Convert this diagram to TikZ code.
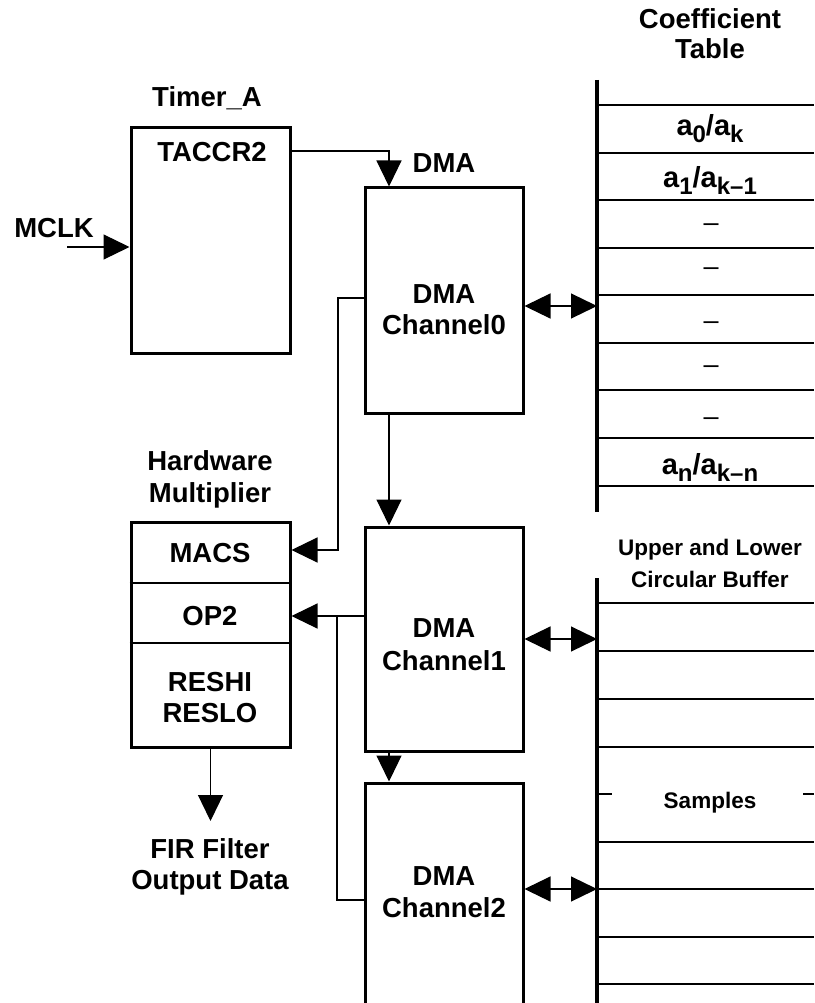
\documentclass[tikz,border=0pt]{standalone}
\usepackage{fontspec}
\setmainfont{Liberation Sans}
\usetikzlibrary{arrows.meta}
\newcommand\sbs[1]{\raisebox{-7pt}{\fontsize{24}{24}\selectfont #1}}
\tikzset{
  lbl/.style={font=\bfseries\fontsize{27.5}{31}\selectfont, inner sep=0pt, anchor=base},
  coeflbl/.style={font=\bfseries\fontsize{29}{31}\selectfont, inner sep=0pt, anchor=base},
  smalllbl/.style={font=\bfseries\fontsize{22.5}{26}\selectfont, inner sep=0pt, anchor=base},
  dashlbl/.style={font=\fontsize{27}{31}\selectfont, inner sep=0pt, anchor=base},
  blk/.style={draw, line width=3pt, inner sep=0pt},
  conn/.style={line width=1.2pt},
  arr/.style={conn, -{Triangle[length=26pt,width=25pt]}},
  darr/.style={conn, {Triangle[length=26pt,width=25pt]}-{Triangle[length=26pt,width=25pt]}},
  tabv/.style={line width=4pt},
  tabh/.style={line width=1.5pt},
}
\begin{document}
\begin{tikzpicture}[x=1pt,y=-1pt]
\useasboundingbox (0,0) rectangle (814,1003);

% Timer_A
\node[blk, minimum width=159, minimum height=225] (timer) at (210.5,240.5) {};
\node[lbl] (timerlbl) at (207,107) {Timer\_A};
\node[lbl] (taccr) at (212,162) {TACCR2};
\node[lbl] (mclklbl) at (54,237) {MCLK};
\coordinate (mclk) at (67,247);
\draw[arr] (mclk) -- (timer.west |- mclk);

% DMA channels
\node[lbl] (dmalbl) at (444,173) {DMA};
\node[blk, minimum width=158, minimum height=225] (ch0) at (444,300.5) {};
\node[lbl] (ch0a) at (444,303) {DMA};
\node[lbl] (ch0b) at (444,334) {Channel0};
\node[blk, minimum width=158, minimum height=224] (ch1) at (444,639) {};
\node[lbl] (ch1a) at (444,637) {DMA};
\node[lbl] (ch1b) at (444,670) {Channel1};
\node[blk, minimum width=158, minimum height=240] (ch2) at (444,903) {};
\node[lbl] (ch2a) at (444,885) {DMA};
\node[lbl] (ch2b) at (444,917) {Channel2};

\draw[arr] (timer.east |- 0,151) -| (ch0.north -| 389,0);
\draw[arr] (ch0.south -| 389,0) -- (ch1.north -| 389,0);
\draw[arr] (ch1.south -| 389,0) -- (ch2.north -| 389,0);

% Hardware multiplier
\node[lbl] (hwa) at (210,470) {Hardware};
\node[lbl] (hwb) at (210,502) {Multiplier};
\node[blk, minimum width=159, minimum height=225] (mult) at (210.5,634.5) {};
\draw[line width=1.2pt] (mult.west |- 0,583) -- (mult.east |- 0,583);
\draw[line width=1.2pt] (mult.west |- 0,643) -- (mult.east |- 0,643);
\node[lbl] (macs) at (210,562) {MACS};
\node[lbl] (op2) at (210,625) {OP2};
\node[lbl] (reshi) at (210,691) {RESHI};
\node[lbl] (reslo) at (210,722) {RESLO};
\node[lbl] (fira) at (210,858) {FIR Filter};
\node[lbl] (firb) at (210,889) {Output Data};
\coordinate (firtip) at (210.5,821);
\draw[arr] (mult.south) -- (firtip);

\draw[arr] (ch0.west |- 0,298) -| (338,550) -- (mult.east |- 0,550);
\draw[arr] (ch1.west |- 0,616) -- (mult.east |- 0,616);
\draw[conn] (ch2.west |- 0,900) -| (337,616);

% Coefficient table
\node[lbl] (cta) at (710,29) {Coefficient};
\node[lbl] (ctb) at (710,59) {Table};
\draw[tabv] (597,80) -- (597,512);
\foreach \yy in {105,153,200,248,295,343,390,438,486}
  \draw[tabh] (599,\yy) -- (814,\yy);
\node[coeflbl] (c0) at (710,136) {a\sbs{0}/a\sbs{k}};
\node[coeflbl] (c1) at (710,187) {a\sbs{1}/a\sbs{k–1}};
\foreach \yy in {224,268,322,366,418}
  \node[dashlbl] at (711,\yy+7) {–};
\node[coeflbl] (cn) at (710,474) {a\sbs{n}/a\sbs{k–n}};
\coordinate (ct) at (597,306);
\draw[darr] (ch0.east |- ct) -- (ct);

% Circular buffer
\node[smalllbl] (cba) at (710,555) {Upper and Lower};
\node[smalllbl] (cbb) at (710,587) {Circular Buffer};
\draw[tabv] (597,578) -- (597,1010);
\foreach \yy in {603,651,699,747,842,889,937,984}
  \draw[tabh] (599,\yy) -- (814,\yy);
\draw[tabh] (599,794) -- (612,794);
\draw[tabh] (803,794) -- (814,794);
\node[smalllbl] (samp) at (710,808) {Samples};
\coordinate (cb1) at (597,639);
\coordinate (cb2) at (597,889);
\draw[darr] (ch1.east |- cb1) -- (cb1);
\draw[darr] (ch2.east |- cb2) -- (cb2);
\end{tikzpicture}
\end{document}
